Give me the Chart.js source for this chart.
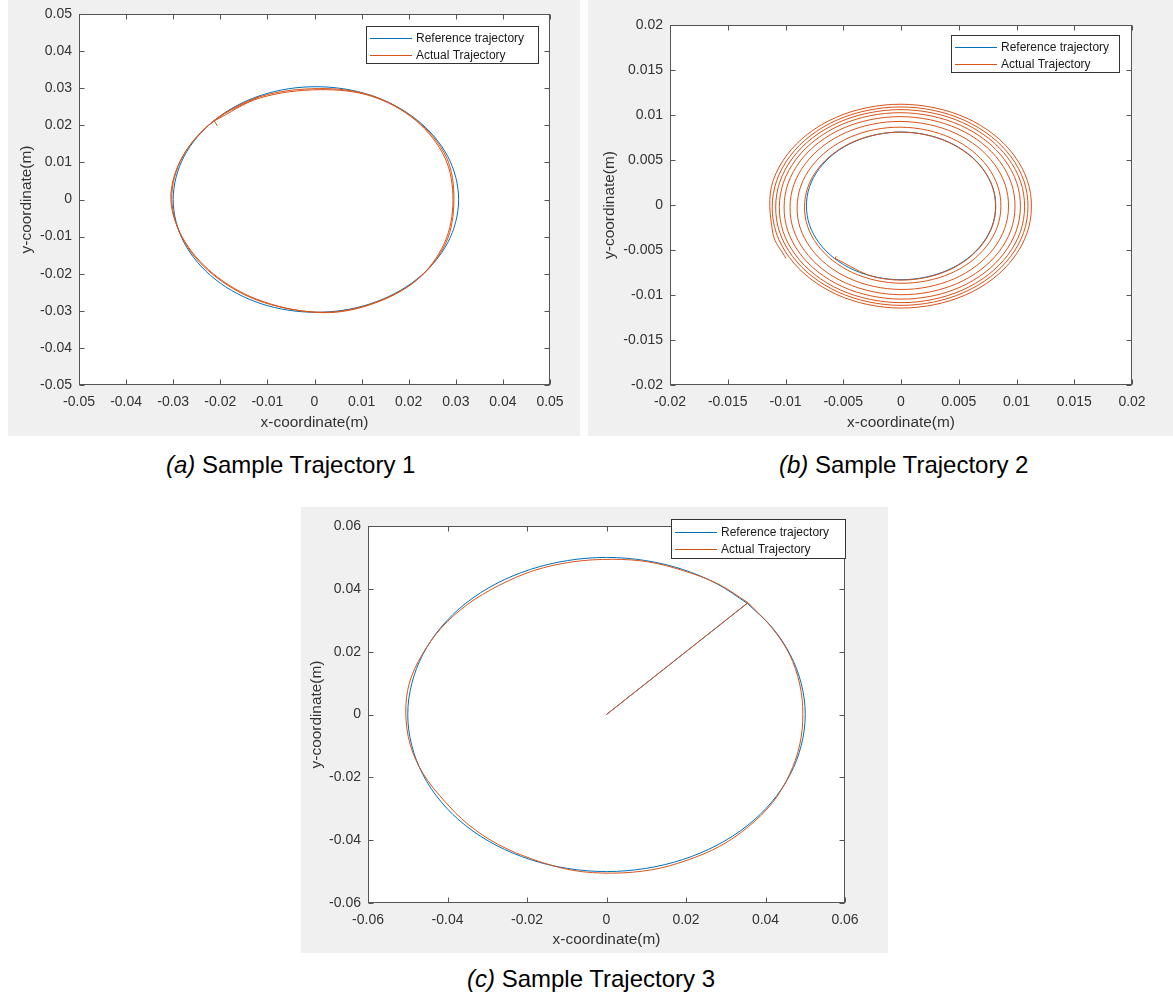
<!DOCTYPE html>
<html>
<head>
<meta charset="utf-8">
<script src="https://cdn.jsdelivr.net/npm/chart.js@4"></script>
<style>
  body { margin: 0; background: #fff; width: 1173px; height: 993px; position: relative; overflow: hidden;
         font-family: "Liberation Sans", Arial, sans-serif; }
  .panel { position: absolute; background: #f0f0f0; }
  .panel canvas { display: block; }
  .cap { position: absolute; font-size: 24px; color: #000; white-space: nowrap; line-height: 28px; }
</style>
</head>
<body>

<div class="panel" style="left:8px;top:0;width:572px;height:436px"><canvas id="chartA" width="572" height="436"></canvas></div>
<div class="panel" style="left:588px;top:0;width:585px;height:436px"><canvas id="chartB" width="585" height="436"></canvas></div>
<div class="panel" style="left:301px;top:507px;width:587px;height:446px"><canvas id="chartC" width="587" height="446"></canvas></div>

<div class="cap" style="left:166px;top:451px"><i>(a)</i> Sample Trajectory 1</div>
<div class="cap" style="left:779px;top:451px"><i>(b)</i> Sample Trajectory 2</div>
<div class="cap" style="left:467px;top:965px"><i>(c)</i> Sample Trajectory 3</div>

<script>
// ---- data (metres) ----
const seriesNames = ["Reference trajectory", "Actual Trajectory"];

// (a) Sample Trajectory 1  (reference is a closed loop)
const ticksA = [-0.05, -0.04, -0.03, -0.02, -0.01, 0, 0.01, 0.02, 0.03, 0.04, 0.05];
const refAx = [-0.0277, -0.0300, -0.0277, -0.0211, -0.0113, 0.0003, 0.0119, 0.0217, 0.0283, 0.0306, 0.0283, 0.0217, 0.0119, 0.0003, -0.0113, -0.0211];
const refAy = [0.0116, 0, -0.0116, -0.0215, -0.0281, -0.0304, -0.0281, -0.0215, -0.0116, 0, 0.0116, 0.0215, 0.0281, 0.0304, 0.0281, 0.0215];
const actAx = [-0.0206, -0.0213, -0.0213, -0.0115, 0.0012, 0.0122, 0.0215, 0.0277, 0.0294, 0.0276, 0.0217, 0.0122, 0.0018, -0.0107, -0.0205, -0.0275, -0.0305, -0.0281,
               -0.0214, -0.0116, 0.0010, 0.0121, 0.0216, 0.0280, 0.0296, 0.0279, 0.0218, 0.0121, 0.0016, -0.0109, -0.0207, -0.0276, -0.0303, -0.0280, -0.0213, -0.0117];
const actAy = [0.0198, 0.0212, 0.0212, 0.0274, 0.0296, 0.0278, 0.0213, 0.0112, -0.0002, -0.0117, -0.0217, -0.0282, -0.0305, -0.0276, -0.0210, -0.0114, 0.0000, 0.0114,
               0.0211, 0.0277, 0.0299, 0.0280, 0.0214, 0.0114, 0.0000, -0.0117, -0.0216, -0.0281, -0.0304, -0.0277, -0.0211, -0.0115, 0.0001, 0.0115, 0.0213, 0.0278];

// (b) Sample Trajectory 2  (reference is a closed loop, actual spirals out)
const ticksB = [-0.02, -0.015, -0.01, -0.005, 0, 0.005, 0.01, 0.015, 0.02];
const refBx = [-0.00792, -0.00580, -0.00212, 0.00212, 0.00580, 0.00792, 0.00792, 0.00580, 0.00212, -0.00212, -0.00580, -0.00792];
const refBy = [-0.00222, -0.00590, -0.00802, -0.00802, -0.00590, -0.00222, 0.00202, 0.00570, 0.00782, 0.00782, 0.00570, 0.00202];
const actBx = [-0.0056, -0.00573, -0.00573,
  -0.00210, 0.00211, 0.00578, 0.00792, 0.00795, 0.00583, 0.00214, -0.00215, -0.00589, -0.00807, -0.00809,
  -0.00594, -0.00219, 0.00220, 0.00607, 0.00834, 0.00839, 0.00619, 0.00228, -0.00230, -0.00631, -0.00867, -0.00873,
  -0.00643, -0.00237, 0.00238, 0.00654, 0.00898, 0.00903, 0.00665, 0.00245, -0.00246, -0.00675, -0.00927, -0.00932,
  -0.00686, -0.00252, 0.00253, 0.00695, 0.00953, 0.00957, 0.00704, 0.00259, -0.00260, -0.00713, -0.00977, -0.00981,
  -0.00721, -0.00265, 0.00266, 0.00728, 0.00998, 0.01002, 0.00735, 0.00270, -0.00271, -0.00742, -0.01017, -0.01021,
  -0.00750, -0.00275, 0.00276, 0.00755, 0.01034, 0.01036, 0.00760, 0.00279, -0.00280, -0.00766, -0.01048, -0.01051,
  -0.00771, -0.00283, 0.00283, 0.00776, 0.01062, 0.01065, 0.00781, 0.00287, -0.00287, -0.00787, -0.01077, -0.01080,
  -0.00792, -0.00291, 0.00291, 0.00798, 0.01091, 0.01094, 0.00803, 0.00295, -0.00295, -0.00808, -0.01106, -0.01109,
  -0.00996];
const actBy = [-0.0057, -0.00593, -0.00593,
  -0.00805, -0.00807, -0.00598, -0.00232, 0.00193, 0.00563, 0.00780, 0.00782, 0.00569, 0.00196, -0.00237,
  -0.00614, -0.00837, -0.00843, -0.00627, -0.00243, 0.00205, 0.00599, 0.00831, 0.00837, 0.00611, 0.00212, -0.00254,
  -0.00663, -0.00904, -0.00909, -0.00674, -0.00261, 0.00222, 0.00645, 0.00893, 0.00898, 0.00655, 0.00228, -0.00270,
  -0.00706, -0.00961, -0.00965, -0.00715, -0.00275, 0.00236, 0.00684, 0.00945, 0.00949, 0.00693, 0.00242, -0.00283,
  -0.00741, -0.01008, -0.01012, -0.00748, -0.00287, 0.00248, 0.00715, 0.00987, 0.00991, 0.00722, 0.00253, -0.00294,
  -0.00770, -0.01047, -0.01049, -0.00775, -0.00297, 0.00258, 0.00740, 0.01021, 0.01023, 0.00746, 0.00261, -0.00302,
  -0.00791, -0.01076, -0.01078, -0.00796, -0.00305, 0.00265, 0.00761, 0.01050, 0.01052, 0.00767, 0.00269, -0.00309,
  -0.00812, -0.01105, -0.01107, -0.00818, -0.00312, 0.00273, 0.00783, 0.01079, 0.01081, 0.00788, 0.00276, -0.00317,
  -0.00595];

// (c) Sample Trajectory 3  (radial start from origin, then one turn)
const ticksC = [-0.06, -0.04, -0.02, 0, 0.02, 0.04, 0.06];
const refCx = [0, 0.0354, 0.0354,
  0.0278, 0.0191, 0.0098, 0, -0.0098, -0.0191, -0.0278, -0.0354, -0.0416, -0.0462, -0.0490, -0.0500, -0.0490, -0.0462, -0.0416, -0.0354,
  -0.0278, -0.0191, -0.0098, 0, 0.0098, 0.0191, 0.0278, 0.0354, 0.0416, 0.0462, 0.0490, 0.0500, 0.0490, 0.0462, 0.0416, 0.0354];
const refCy = [0, 0.0354, 0.0354,
  0.0416, 0.0462, 0.0490, 0.0500, 0.0490, 0.0462, 0.0416, 0.0354, 0.0278, 0.0191, 0.0098, 0, -0.0098, -0.0191, -0.0278, -0.0354,
  -0.0416, -0.0462, -0.0490, -0.0500, -0.0490, -0.0462, -0.0416, -0.0354, -0.0278, -0.0191, -0.0098, 0, 0.0098, 0.0191, 0.0278, 0.0354];
const actCx = [0, 0.0356, 0.0356,
  0.0280, 0.0193, 0.0104, 0.0015, -0.0085, -0.0183, -0.0272, -0.0350, -0.0416, -0.0464, -0.0496, -0.0505, -0.0494, -0.0462, -0.0410, -0.0348,
  -0.0272, -0.0183, -0.0085, 0.0015, 0.0115, 0.0200, 0.0284, 0.0358, 0.0418, 0.0460, 0.0486, 0.0494, 0.0486, 0.0460, 0.0415, 0.0356];
const actCy = [0, 0.0356, 0.0356,
  0.0416, 0.0458, 0.0486, 0.0494, 0.0486, 0.0458, 0.0410, 0.0350, 0.0275, 0.0190, 0.0100, 0.0005, -0.0095, -0.0187, -0.0272, -0.0350,
  -0.0414, -0.0462, -0.0496, -0.0505, -0.0494, -0.0465, -0.0420, -0.0356, -0.0280, -0.0192, -0.0097, 0.0000, 0.0097, 0.0192, 0.0278, 0.0356];

// ---- drawing ----
Chart.defaults.font.family = '"Liberation Sans", Arial, sans-serif';
Chart.defaults.color = '#333';

const BLUE = '#0072BD', ORANGE = '#D95319';

function pts(xs, ys) { return xs.map((x, i) => ({ x: x, y: ys[i] })); }
function fmt(v) { return String(+(+v).toFixed(4)); }

// white axes, inner ticks on four sides, boxed legend (MATLAB look)
const matlabAxes = {
  id: 'matlabAxes',
  afterDatasetUpdate(chart, args) {
    // closed curves: let the line element wrap its spline like a radar line
    if (chart.data.datasets[args.index].closed && args.meta.dataset) {
      args.meta.dataset._loop = true;
      args.meta.dataset._fullLoop = true;
    }
  },
  beforeDraw(chart) {
    const { ctx, chartArea: a } = chart;
    ctx.save();
    ctx.fillStyle = '#fff';
    ctx.fillRect(a.left, a.top, a.right - a.left, a.bottom - a.top);
    ctx.restore();
  },
  afterDraw(chart, args, opts) {
    const { ctx, chartArea: a, scales: { x, y } } = chart;
    const L = Math.round(a.left) + 0.5, R = Math.round(a.right) - 0.5;
    const T = Math.round(a.top) + 0.5, B = Math.round(a.bottom) - 0.5;
    ctx.save();
    ctx.lineWidth = 1;
    ctx.strokeStyle = '#555';
    ctx.strokeRect(L, T, R - L, B - T);
    ctx.beginPath();
    x.ticks.forEach(t => {
      const p = Math.round(x.getPixelForValue(t.value)) + 0.5;
      ctx.moveTo(p, B); ctx.lineTo(p, B - 5);
      ctx.moveTo(p, T); ctx.lineTo(p, T + 5);
    });
    y.ticks.forEach(t => {
      const p = Math.round(y.getPixelForValue(t.value)) + 0.5;
      ctx.moveTo(L, p); ctx.lineTo(L + 5, p);
      ctx.moveTo(R, p); ctx.lineTo(R - 5, p);
    });
    ctx.stroke();

    const g = opts.box;
    ctx.fillStyle = '#fff';
    ctx.fillRect(g.x, g.y, g.w, g.h);
    ctx.strokeStyle = '#333';
    ctx.strokeRect(g.x + 0.5, g.y + 0.5, g.w - 1, g.h - 1);
    ctx.font = '12px "Liberation Sans", Arial, sans-serif';
    ctx.textBaseline = 'middle';
    chart.data.datasets.forEach((ds, i) => {
      const ry = Math.round(g.y + g.row0 + i * 17) + 0.5;
      ctx.strokeStyle = ds.borderColor;
      ctx.beginPath();
      ctx.moveTo(g.x + 4, ry); ctx.lineTo(g.x + 46, ry);
      ctx.stroke();
      ctx.fillStyle = '#1a1a1a';
      ctx.fillText(ds.label, g.x + 50, ry);
    });
    ctx.restore();
  }
};

function axis(ticks, title, size, pad) {
  return {
    type: 'linear',
    min: ticks[0],
    max: ticks[ticks.length - 1],
    afterBuildTicks: s => { s.ticks = ticks.map(v => ({ value: v })); },
    afterFit: s => {
      if (s.isHorizontal()) s.height = size; else s.width = size;
      s.paddingLeft = s.paddingRight = s.paddingTop = s.paddingBottom = 0;
    },
    grid: { display: false, drawTicks: false },
    border: { display: false },
    ticks: { callback: fmt, autoSkip: false, maxRotation: 0, padding: pad, font: { size: 14 }, color: '#333' },
    title: { display: true, text: title, padding: 0, font: { size: 15.4 }, color: '#333' }
  };
}

function makeChart(id, ticks, ref, act, lay) {
  new Chart(document.getElementById(id), {
    type: 'scatter',
    data: {
      datasets: [
        { label: seriesNames[0], data: ref, borderColor: BLUE, order: 2, closed: lay.refClosed,
          showLine: true, pointRadius: 0, borderWidth: 1, tension: lay.tension, fill: false },
        { label: seriesNames[1], data: act, borderColor: ORANGE, order: 1,
          showLine: true, pointRadius: 0, borderWidth: 1, tension: lay.tension, fill: false }
      ]
    },
    options: {
      responsive: false,
      animation: false,
      devicePixelRatio: 1,
      layout: { padding: lay.padding },
      scales: {
        x: axis(ticks, 'x-coordinate(m)', lay.xh, 9),
        y: axis(ticks, 'y-coordinate(m)', lay.yw, 7)
      },
      plugins: {
        legend: { display: false },
        tooltip: { enabled: false },
        matlabAxes: { box: lay.box }
      }
    },
    plugins: [matlabAxes]
  });
}

makeChart('chartA', ticksA, pts(refAx, refAy), pts(actAx, actAy), {
  padding: { left: 10, top: 14, right: 30, bottom: 4 }, yw: 61, xh: 47, tension: 0.34, refClosed: true,
  box: { x: 358, y: 26, w: 173, h: 38, row0: 11.5 }
});
makeChart('chartB', ticksB, pts(refBx, refBy), pts(actBx, actBy), {
  padding: { left: 13, top: 25, right: 41, bottom: 4 }, yw: 69, xh: 47, tension: 0.35, refClosed: true,
  box: { x: 363, y: 35, w: 169, h: 38, row0: 11.7 }
});
makeChart('chartC', ticksC, pts(refCx, refCy), pts(actCx, actCy), {
  padding: { left: 7, top: 19, right: 43, bottom: 4 }, yw: 60, xh: 46, tension: 0.34, refClosed: false,
  box: { x: 370, y: 12, w: 175, h: 40, row0: 12.5 }
});
</script>
</body>
</html>
